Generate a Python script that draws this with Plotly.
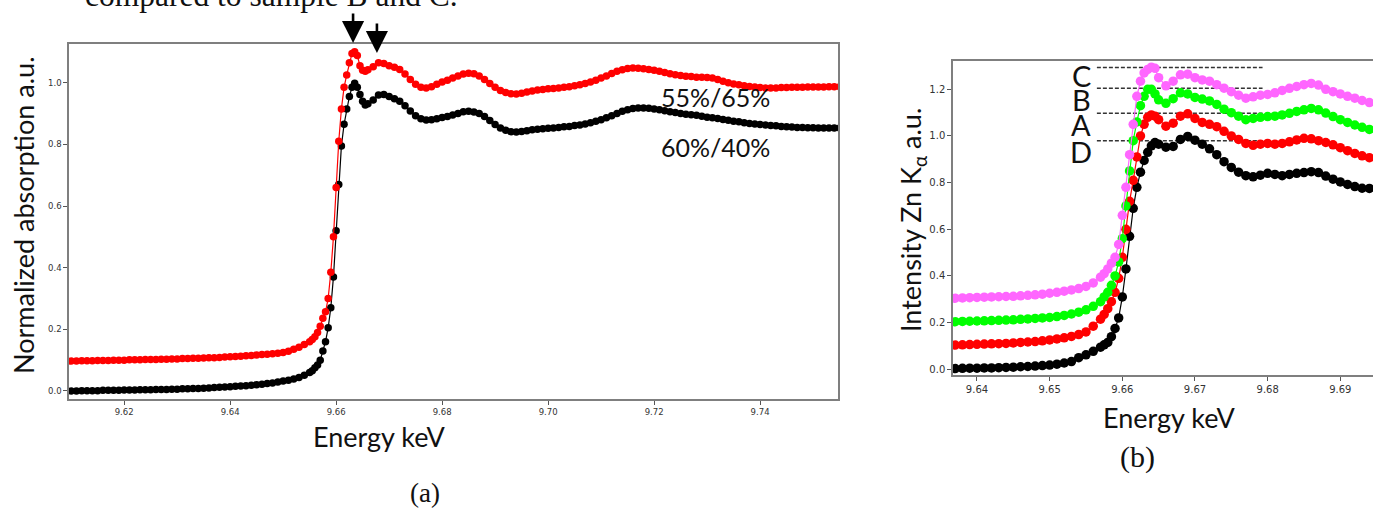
import plotly.graph_objects as go

# ---------------- Panel (a) data ----------------
E_A = [9.610, 9.611, 9.612, 9.613, 9.614, 9.615, 9.616, 9.617, 9.618, 9.619,
       9.620, 9.621, 9.622, 9.623, 9.624, 9.625, 9.626, 9.627, 9.628, 9.629,
       9.630, 9.631, 9.632, 9.633, 9.634, 9.635, 9.636, 9.637, 9.638, 9.639,
       9.640, 9.641, 9.642, 9.643, 9.644, 9.645, 9.646, 9.647, 9.648, 9.649,
       9.650, 9.651, 9.652, 9.653, 9.654, 9.655,
       9.6555, 9.656, 9.6565, 9.657, 9.6575, 9.658, 9.6585, 9.659, 9.6595, 9.660,
       9.6605, 9.661, 9.6615, 9.662, 9.6625, 9.663, 9.6635, 9.664, 9.6645, 9.665,
       9.6655, 9.666,
       9.667, 9.668, 9.669, 9.670, 9.671, 9.672, 9.673, 9.674, 9.675, 9.676,
       9.677, 9.678, 9.679, 9.680, 9.681, 9.682, 9.683, 9.684, 9.685, 9.686,
       9.687, 9.688, 9.689, 9.690, 9.691, 9.692, 9.693, 9.694, 9.695, 9.696,
       9.697, 9.698, 9.699, 9.700, 9.701, 9.702, 9.703, 9.704, 9.705, 9.706,
       9.707, 9.708, 9.709, 9.710, 9.711, 9.712, 9.713, 9.714, 9.715, 9.716,
       9.717, 9.718, 9.719, 9.720, 9.721, 9.722, 9.723, 9.724, 9.725, 9.726,
       9.727, 9.728, 9.729, 9.730, 9.731, 9.732, 9.733, 9.734, 9.735, 9.736,
       9.737, 9.738, 9.739, 9.740, 9.741, 9.742, 9.743, 9.744, 9.745, 9.746,
       9.747, 9.748, 9.749, 9.750, 9.751, 9.752, 9.753, 9.754, 9.755]

abs_60_40 = [0.000, 0.000, 0.001, 0.001, 0.001, 0.001, 0.002, 0.002, 0.002, 0.002,
             0.003, 0.003, 0.003, 0.004, 0.004, 0.004, 0.005, 0.005, 0.005, 0.006,
             0.006, 0.007, 0.007, 0.008, 0.008, 0.009, 0.010, 0.011, 0.012, 0.013,
             0.014, 0.015, 0.016, 0.017, 0.019, 0.020, 0.022, 0.024, 0.026, 0.029,
             0.032, 0.035, 0.039, 0.044, 0.051, 0.060,
             0.066, 0.075, 0.084, 0.100, 0.130, 0.160, 0.205, 0.270, 0.370, 0.520,
             0.670, 0.795, 0.865, 0.915, 0.955, 0.985, 0.998, 0.985, 0.962, 0.940,
             0.928, 0.932,
             0.944, 0.960, 0.962, 0.955, 0.948, 0.940, 0.925, 0.908, 0.893, 0.883,
             0.879, 0.880, 0.883, 0.887, 0.890, 0.895, 0.900, 0.906, 0.907, 0.905,
             0.900, 0.890, 0.877, 0.864, 0.853, 0.846, 0.841, 0.840, 0.842, 0.844,
             0.847, 0.849, 0.851, 0.852, 0.853, 0.855, 0.857, 0.858, 0.861, 0.863,
             0.866, 0.870, 0.875, 0.880, 0.886, 0.893, 0.900, 0.907, 0.912, 0.916,
             0.918, 0.918, 0.917, 0.915, 0.912, 0.909, 0.906, 0.903, 0.900, 0.898,
             0.896, 0.894, 0.891, 0.888, 0.886, 0.884, 0.881, 0.878, 0.875, 0.873,
             0.870, 0.868, 0.866, 0.864, 0.863, 0.861, 0.860, 0.858, 0.857, 0.856,
             0.855, 0.855, 0.854, 0.854, 0.853, 0.853, 0.853, 0.853, 0.853]

abs_55_65 = [0.097, 0.097, 0.098, 0.098, 0.098, 0.099, 0.099, 0.099, 0.100, 0.100,
             0.100, 0.101, 0.101, 0.101, 0.102, 0.102, 0.102, 0.103, 0.103, 0.104,
             0.104, 0.105, 0.105, 0.106, 0.106, 0.107, 0.108, 0.108, 0.109, 0.110,
             0.111, 0.112, 0.113, 0.114, 0.115, 0.117, 0.118, 0.119, 0.121, 0.122,
             0.125, 0.129, 0.135, 0.142, 0.151, 0.160,
             0.167, 0.176, 0.190, 0.210, 0.236, 0.257, 0.300, 0.385, 0.500, 0.660,
             0.810, 0.915, 0.985, 1.025, 1.065, 1.095, 1.100, 1.088, 1.055, 1.040,
             1.037, 1.042,
             1.052, 1.065, 1.062, 1.055, 1.050, 1.043, 1.028, 1.010, 0.995, 0.985,
             0.983, 0.987, 0.995, 1.002, 1.008, 1.015, 1.022, 1.028, 1.031, 1.029,
             1.022, 1.010, 0.997, 0.985, 0.975, 0.968, 0.964, 0.963, 0.966, 0.970,
             0.973, 0.976, 0.978, 0.980, 0.981, 0.983, 0.985, 0.987, 0.990, 0.993,
             0.997, 1.002, 1.008, 1.015, 1.022, 1.030, 1.037, 1.042, 1.046, 1.048,
             1.047, 1.045, 1.043, 1.040, 1.037, 1.033, 1.029, 1.026, 1.023, 1.021,
             1.020, 1.018, 1.018, 1.017, 1.015, 1.010, 1.005, 1.000, 0.996, 0.993,
             0.990, 0.988, 0.986, 0.984, 0.983, 0.983, 0.983, 0.984, 0.984, 0.985,
             0.985, 0.985, 0.986, 0.986, 0.986, 0.986, 0.987, 0.987, 0.987]

ticks_A_x = [9.62, 9.64, 9.66, 9.68, 9.70, 9.72, 9.74]
ticks_A_y = [0.0, 0.2, 0.4, 0.6, 0.8, 1.0]
arrow_E = [9.6632, 9.6677]

# ---------------- Panel (b) data ----------------
E_B = [9.637, 9.638, 9.639, 9.640, 9.641, 9.642, 9.643, 9.644, 9.645, 9.646,
       9.647, 9.648, 9.649, 9.650, 9.651, 9.652, 9.653, 9.654, 9.655, 9.656, 9.657,
       9.6575, 9.658, 9.6585, 9.659, 9.6595, 9.660, 9.6605, 9.661, 9.6615, 9.662,
       9.6625, 9.663, 9.6635, 9.664, 9.6645, 9.665,
       9.666, 9.667, 9.668, 9.669, 9.670, 9.671, 9.672, 9.673, 9.674, 9.675,
       9.676, 9.677, 9.678, 9.679, 9.680, 9.681, 9.682, 9.683, 9.684, 9.685,
       9.686, 9.687, 9.688, 9.689, 9.690, 9.691, 9.692, 9.693, 9.694, 9.695]

int_D = [0.003, 0.004, 0.005, 0.005, 0.006, 0.006, 0.007, 0.008, 0.009, 0.011,
         0.012, 0.014, 0.016, 0.018, 0.022, 0.027, 0.033, 0.050, 0.062, 0.077, 0.095,
         0.105, 0.115, 0.140, 0.175, 0.220, 0.310, 0.430, 0.570, 0.690, 0.780,
         0.845, 0.895, 0.930, 0.958, 0.972, 0.965,
         0.952, 0.955, 0.985, 0.998, 0.982, 0.965, 0.945, 0.920, 0.890, 0.865,
         0.845, 0.830, 0.825, 0.832, 0.840, 0.835, 0.830, 0.835, 0.840, 0.843,
         0.847, 0.843, 0.828, 0.815, 0.803, 0.792, 0.783, 0.776, 0.775, 0.775]

int_A = [0.104, 0.105, 0.106, 0.107, 0.108, 0.109, 0.110, 0.111, 0.113, 0.115,
         0.117, 0.119, 0.122, 0.126, 0.130, 0.135, 0.141, 0.149, 0.160, 0.185, 0.215,
         0.235, 0.260, 0.290, 0.330, 0.390, 0.480, 0.600, 0.720, 0.810, 0.910,
         1.000, 1.050, 1.080, 1.090, 1.085, 1.070,
         1.042, 1.055, 1.085, 1.095, 1.075, 1.058, 1.050, 1.040, 1.020, 1.000,
         0.985, 0.968, 0.960, 0.965, 0.968, 0.965, 0.968, 0.975, 0.983, 0.990,
         0.988, 0.980, 0.972, 0.962, 0.950, 0.937, 0.925, 0.915, 0.907, 0.903]

int_B = [0.204, 0.205, 0.206, 0.207, 0.208, 0.209, 0.210, 0.211, 0.212, 0.214,
         0.216, 0.218, 0.220, 0.222, 0.226, 0.231, 0.237, 0.245, 0.255, 0.270, 0.290,
         0.310, 0.330, 0.360, 0.400, 0.460, 0.560, 0.700, 0.850, 0.980, 1.060,
         1.130, 1.170, 1.200, 1.200, 1.180, 1.155,
         1.140, 1.160, 1.185, 1.180, 1.165, 1.158, 1.150, 1.135, 1.115, 1.100,
         1.085, 1.070, 1.075, 1.080, 1.083, 1.085, 1.090, 1.097, 1.105, 1.112,
         1.118, 1.112, 1.098, 1.083, 1.070, 1.058, 1.047, 1.037, 1.028, 1.025]

int_C = [0.305, 0.306, 0.307, 0.308, 0.309, 0.310, 0.311, 0.312, 0.313, 0.315,
         0.317, 0.319, 0.322, 0.326, 0.330, 0.335, 0.340, 0.346, 0.355, 0.370, 0.395,
         0.410, 0.430, 0.455, 0.480, 0.535, 0.660, 0.780, 0.920, 1.050, 1.170,
         1.235, 1.270, 1.285, 1.295, 1.290, 1.250,
         1.215, 1.235, 1.262, 1.265, 1.250, 1.240, 1.235, 1.220, 1.205, 1.190,
         1.175, 1.162, 1.168, 1.175, 1.178, 1.185, 1.195, 1.204, 1.212, 1.220,
         1.225, 1.218, 1.200, 1.190, 1.180, 1.170, 1.162, 1.152, 1.143, 1.140]

ref_labels = ["C", "B", "A", "D"]
ref_levels = [1.293, 1.204, 1.097, 0.979]
ref_span = [9.6565, 9.6793]
ticks_B_x = [9.64, 9.65, 9.66, 9.67, 9.68, 9.69]
ticks_B_y = [0.0, 0.2, 0.4, 0.6, 0.8, 1.0, 1.2]

for name, ys, xs in [("abs_60_40", abs_60_40, E_A), ("abs_55_65", abs_55_65, E_A),
                     ("int_D", int_D, E_B), ("int_A", int_A, E_B),
                     ("int_B", int_B, E_B), ("int_C", int_C, E_B)]:
    if len(ys) != len(xs):
        raise SystemExit(f"{name}: {len(ys)} vs {len(xs)}")

W, H = 1373, 508
fig = go.Figure()

def series(x, y, color, size, xa, ya):
    fig.add_trace(go.Scatter(x=x, y=y, mode="lines+markers", xaxis=xa, yaxis=ya,
                             line=dict(color=color, width=1.2),
                             marker=dict(color=color, size=size, line=dict(width=0)),
                             showlegend=False, cliponaxis=True))

series(E_A, abs_60_40, "#000000", 7.5, "x", "y")
series(E_A, abs_55_65, "#ff0000", 7.5, "x", "y")

# reference dashed lines (b)
dx, dy = [], []
for lv in ref_levels:
    dx += [ref_span[0], ref_span[1], None]
    dy += [lv, lv, None]
fig.add_trace(go.Scatter(x=dx, y=dy, mode="lines", xaxis="x2", yaxis="y2",
                         line=dict(color="#333333", width=1.5, dash="4px,2px"),
                         showlegend=False))

series(E_B, int_D, "#000000", 9.5, "x2", "y2")
series(E_B, int_A, "#ff0000", 9.5, "x2", "y2")
series(E_B, int_B, "#00ff00", 9.5, "x2", "y2")
series(E_B, int_C, "#ff66ff", 9.5, "x2", "y2")

tickfont_a = dict(family="DejaVu Sans", size=8.5, color="#333333")
tickfont_b = dict(family="DejaVu Sans", size=10, color="#333333")
axline = dict(showline=True, linecolor="#7f7f7f", linewidth=1.5, ticks="outside",
              ticklen=4, tickcolor="#555555", tickwidth=1, showgrid=False, zeroline=False)

fig.update_layout(
    width=W, height=H, margin=dict(l=0, r=0, t=0, b=0),
    paper_bgcolor="white", plot_bgcolor="white",
    xaxis=dict(domain=[69 / W, 838 / W], range=[9.6096, 9.7547], tickvals=ticks_A_x,
               tickformat=".2f", tickfont=tickfont_a, anchor="y", mirror=True, **axline),
    yaxis=dict(domain=[(H - 399) / H, (H - 44) / H], range=[-0.026, 1.1255],
               tickvals=ticks_A_y, tickformat=".1f", tickfont=tickfont_a, anchor="x",
               mirror=True, **axline),
    xaxis2=dict(domain=[953 / W, 1.0], range=[9.6367, 9.6945], tickvals=ticks_B_x,
                tickformat=".2f", tickfont=tickfont_b, anchor="y2", mirror=True, **axline),
    yaxis2=dict(domain=[(H - 375) / H, (H - 61) / H], range=[-0.0244, 1.3213],
                tickvals=ticks_B_y, tickformat=".1f", tickfont=tickfont_b, anchor="x2",
                **axline),
)

sans = "Lato"
serif = "Liberation Serif"
ann = []
def text(s, x, y, size, family=sans, angle=0, xanchor="center", yanchor="middle", color="#111111"):
    ann.append(dict(text=s, x=x, y=y, xref="paper", yref="paper", showarrow=False,
                    textangle=angle, xanchor=xanchor, yanchor=yanchor,
                    font=dict(family=family, size=size, color=color)))

text("compared to sample B and C.", 83 / W, (H + 5) / H, 31.5, family=serif, xanchor="left")
text("Normalized absorption a.u.", 23 / W, (H - 215) / H, 27, angle=-90)
text("Energy keV", 379 / W, (H - 436) / H, 27)
text("(a)", 425 / W, (H - 493) / H, 27, family=serif)
text("55%/65%", 716 / W, (H - 97) / H, 25)
text("60%/40%", 716 / W, (H - 147) / H, 25)
text("Intensity Zn K<sub>α</sub> a.u.", 912 / W, (H - 220) / H, 27, angle=-90)
text("Energy keV", 1169 / W, (H - 417) / H, 27)
text("(b)", 1137 / W, (H - 457) / H, 30, family=serif)
for lab, yp in zip(ref_labels, [76, 99, 124, 151]):
    text(lab, 1081 / W, (H - yp) / H, 29)

# arrows pointing at the two white-line peaks (tips just above the frame top)
for e, tip_px in zip(arrow_E, [43, 53]):
    ann.append(dict(x=e, y=(H - tip_px) / H, xref="x", yref="paper", ax=0, ay=-31,
                    axref="pixel", ayref="pixel", showarrow=True, text="",
                    arrowhead=2, arrowsize=1.7, arrowwidth=2.6, arrowcolor="#000000"))

fig.update_layout(annotations=ann)
fig.write_html("out.html", config={"displayModeBar": False},
               post_script="document.body.style.margin='0px';document.body.style.overflow='hidden';")
